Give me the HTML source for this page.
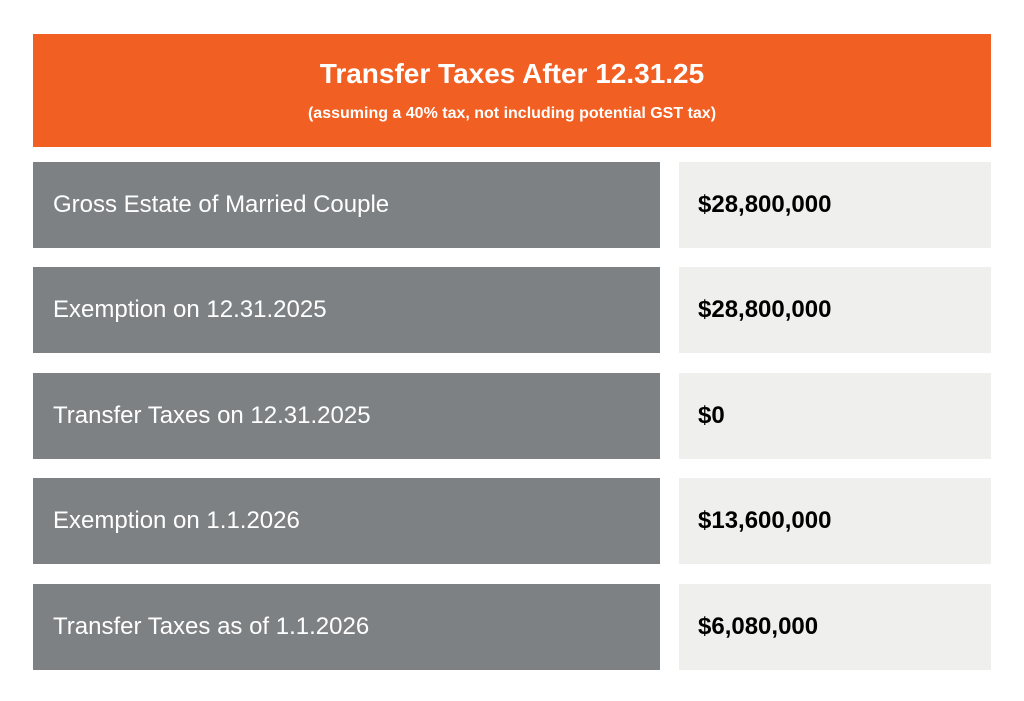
<!DOCTYPE html>
<html><head><meta charset="utf-8"><style>
body{margin:0;width:1024px;height:701px;background:#fff;font-family:"Liberation Sans",Arial,sans-serif;position:relative;overflow:hidden}
.hdr{position:absolute;left:33px;top:34px;width:958px;height:113px;background:#f15f22;color:#fff;text-align:center}
.t{position:absolute;left:0;right:0;top:24px;font-size:28px;font-weight:bold}
.s{position:absolute;left:0;right:0;top:71px;font-size:16px;font-weight:bold}
.l{position:absolute;left:33px;width:627px;height:86px;background:#7e8184;color:#fff;font-size:24px;line-height:86px;box-sizing:border-box;padding-left:20px}
.v{position:absolute;left:679px;width:312px;height:86px;background:#efefee;color:#000;font-size:24px;font-weight:bold;line-height:86px;box-sizing:border-box;padding-left:19px}
</style></head><body>
<div class="hdr">
<div class="t">Transfer Taxes After 12.31.25</div>
<div class="s">(assuming a 40% tax, not including potential GST tax)</div>
</div>
<div class="l" style="top:162px">Gross Estate of Married Couple</div>
<div class="v" style="top:162px">$28,800,000</div>
<div class="l" style="top:267px">Exemption on 12.31.2025</div>
<div class="v" style="top:267px">$28,800,000</div>
<div class="l" style="top:373px">Transfer Taxes on 12.31.2025</div>
<div class="v" style="top:373px">$0</div>
<div class="l" style="top:478px">Exemption on 1.1.2026</div>
<div class="v" style="top:478px">$13,600,000</div>
<div class="l" style="top:584px">Transfer Taxes as of 1.1.2026</div>
<div class="v" style="top:584px">$6,080,000</div>
</body></html>
